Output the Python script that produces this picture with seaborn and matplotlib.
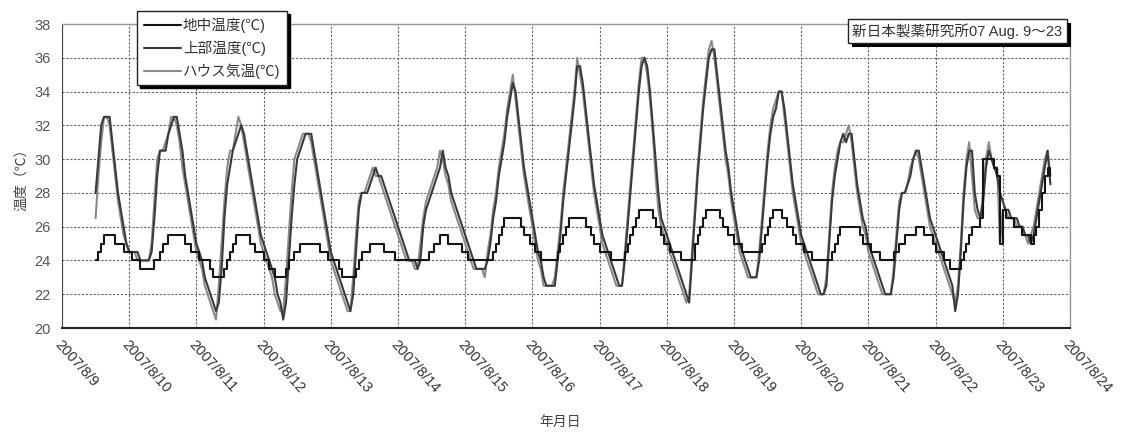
import pandas as pd
import matplotlib.pyplot as plt
import matplotlib.dates as mdates
import matplotlib.ticker as mticker
import matplotlib.patheffects as pe
import seaborn as sns

# hourly readings, 2007/8/9 12:00 .. 2007/8/23 17:00 (one line per day)
start_time = '2007-08-09 12:00'

ground_temp = [
    24, 24.5, 25, 25.5, 25.5, 25.5, 25.5, 25, 25, 25, 24.5, 24.5,  # 8/9 from 12:00
    24.5, 24, 24, 24, 23.5, 23.5, 23.5, 23.5, 23.5, 24, 24, 24.5, 25, 25, 25.5, 25.5, 25.5, 25.5, 25.5, 25.5, 25, 25, 24.5, 24.5,
    24.5, 24, 24, 24, 24, 23.5, 23, 23, 23, 23, 23.5, 24, 24.5, 25, 25.5, 25.5, 25.5, 25.5, 25.5, 25, 25, 24.5, 24.5, 24.5,
    24, 24, 23.5, 23.5, 23, 23, 23, 23, 23.5, 24, 24, 24.5, 24.5, 25, 25, 25, 25, 25, 25, 25, 24.5, 24.5, 24.5, 24,
    24, 24, 24, 23.5, 23, 23, 23, 23, 23, 23.5, 24, 24.5, 24.5, 24.5, 25, 25, 25, 25, 25, 24.5, 24.5, 24.5, 24.5, 24,
    24, 24, 24, 24, 24, 24, 24, 24, 24, 24, 24, 24.5, 24.5, 25, 25, 25.5, 25.5, 25.5, 25, 25, 25, 25, 25, 24.5,
    24.5, 24, 24, 24, 24, 24, 24, 24, 24, 24, 24.5, 25, 25.5, 26, 26.5, 26.5, 26.5, 26.5, 26.5, 26.5, 26, 25.5, 25.5, 25,
    25, 24.5, 24.5, 24, 24, 24, 24, 24, 24, 24.5, 25, 25.5, 26, 26.5, 26.5, 26.5, 26.5, 26.5, 26.5, 26, 26, 25.5, 25, 25,
    24.5, 24.5, 24.5, 24.5, 24, 24, 24, 24, 24, 24.5, 25, 25.5, 26, 26.5, 27, 27, 27, 27, 27, 26.5, 26, 26, 25.5, 25,
    25, 24.5, 24.5, 24.5, 24.5, 24, 24, 24, 24, 24, 25, 25.5, 26, 26.5, 27, 27, 27, 27, 27, 26.5, 26, 26, 25.5, 25.5,
    25, 25, 25, 24.5, 24.5, 24.5, 24.5, 24.5, 24.5, 24.5, 25, 25.5, 26, 26.5, 27, 27, 27, 26.5, 26.5, 26, 26, 25.5, 25, 25,
    25, 24.5, 24.5, 24.5, 24, 24, 24, 24, 24, 24, 24, 24.5, 25, 25.5, 26, 26, 26, 26, 26, 26, 26, 25.5, 25, 25,
    25, 24.5, 24.5, 24.5, 24, 24, 24, 24, 24, 24.5, 24.5, 25, 25, 25.5, 25.5, 25.5, 25.5, 26, 26, 26, 25.5, 25.5, 25.5, 25,
    24.5, 24.5, 24.5, 24, 24, 23.5, 23.5, 23.5, 23.5, 24, 24.5, 25, 25.5, 26, 26, 26, 26.5, 30, 30, 30, 30, 29.5, 29, 25,
    27, 26.5, 26.5, 26.5, 26, 26, 26, 25.5, 25.5, 25.5, 25, 25.5, 26, 27, 28, 29, 29.5, 29,  # 8/23 until 17:00
]

upper_temp = [
    28, 30, 32, 32.5, 32.5, 32.5, 31, 29.5, 28, 27, 26, 25,
    24.5, 24.5, 24.5, 24.5, 24, 24, 24, 24, 24.5, 26.5, 29, 30.5, 30.5, 30.5, 31.5, 32, 32.5, 32.5, 31.5, 30.5, 29, 28, 27, 26,
    25, 24.5, 24, 23, 22.5, 22, 21.5, 21, 21.5, 23.5, 26.5, 28.5, 29.5, 30.5, 31, 31.5, 32, 31.5, 30.5, 29.5, 28.5, 27.5, 26.5, 25.5,
    25, 24.5, 24, 23.5, 23, 22, 21.5, 20.5, 21.5, 24, 26.5, 28.5, 30, 30.5, 31, 31.5, 31.5, 31.5, 30.5, 29.5, 28.5, 27.5, 26.5, 25.5,
    24.5, 24, 23.5, 23, 22.5, 22, 21.5, 21, 22, 24.5, 27, 28, 28, 28, 28.5, 29, 29.5, 29, 29, 28.5, 28, 27.5, 27, 26.5,
    26, 25.5, 25, 24.5, 24, 24, 24, 23.5, 24, 26, 27, 27.5, 28, 28.5, 29, 29.5, 30.5, 29.5, 29, 28, 27.5, 27, 26.5, 26,
    25.5, 25, 24.5, 24, 23.5, 23.5, 23.5, 23.5, 24, 25, 26.5, 27.5, 29, 30, 31, 32.5, 33.5, 34.5, 34, 32.5, 31, 29.5, 28.5, 27.5,
    26.5, 25.5, 24.5, 24, 23, 22.5, 22.5, 22.5, 22.5, 24, 25.5, 27.5, 29, 30.5, 32, 33.5, 35.5, 35.5, 34.5, 33, 31.5, 30, 28.5, 27.5,
    26.5, 25.5, 25, 24.5, 24, 23.5, 23, 22.5, 22.5, 24, 26, 28, 30, 32, 34, 35.5, 36, 35.5, 34, 32, 30, 28, 26.5, 26,
    25.5, 25, 24.5, 24, 23.5, 23, 22.5, 22, 21.5, 24, 26.5, 29, 31, 33, 34.5, 36, 36.5, 36.5, 35, 33.5, 32, 30.5, 29.5, 28,
    27, 26, 25, 24.5, 24, 23.5, 23, 23, 23, 24, 26, 28, 30, 31.5, 32.5, 33, 34, 34, 33, 31.5, 30, 28.5, 27.5, 26.5,
    25.5, 25, 24.5, 24, 23.5, 23, 22.5, 22, 22, 22.5, 25, 27.5, 29, 30, 31, 31.5, 31, 31.5, 31.5, 30, 28.5, 27.5, 26.5, 26,
    25, 24.5, 24, 23.5, 23, 22.5, 22, 22, 22, 23, 25, 27, 28, 28, 28.5, 29, 30, 30.5, 30.5, 29.5, 28.5, 27.5, 26.5, 26,
    25.5, 25, 24.5, 24, 23.5, 23, 22.5, 21, 22, 24.5, 27.5, 29.5, 30.5, 30.5, 28, 27, 26.5, 27.5, 29.5, 30.5, 30, 29.5, 29, 28,
    27.5, 27, 27, 26.5, 26.5, 26.5, 26, 26, 25.5, 25.5, 25, 25.5, 26.5, 27.5, 28.5, 29.5, 30.5, 28.5,
]

house_temp = [
    26.5, 29, 31, 32.5, 32.5, 32, 30.5, 29, 27.5, 26.5, 25.5, 25,
    24.5, 24.5, 24.5, 24, 24, 24, 24, 24, 25, 27.5, 30, 30.5, 30.5, 31, 31.5, 32.5, 32.5, 32, 31, 29.5, 28.5, 27.5, 26.5, 25.5,
    24.5, 24, 23.5, 22.5, 22, 21.5, 21, 20.5, 22.5, 25, 27.5, 29.5, 30.5, 30.5, 31.5, 32.5, 32, 31, 30, 29, 28, 27, 26, 25,
    24.5, 24, 23.5, 23, 22, 21.5, 21, 21, 23, 25.5, 28, 30, 30.5, 31, 31.5, 31.5, 31.5, 31, 30, 29, 28, 27, 26, 25,
    24, 23.5, 23, 22.5, 22, 21.5, 21, 21, 23, 25.5, 27.5, 28, 28, 28.5, 29, 29.5, 29, 29, 28.5, 28, 27.5, 27, 26.5, 26,
    25.5, 25, 24.5, 24, 24, 24, 23.5, 23.5, 25, 26.5, 27.5, 28, 28.5, 29, 29.5, 30.5, 30, 29, 28.5, 27.5, 27, 26.5, 26, 25.5,
    25, 24.5, 24, 23.5, 23.5, 23.5, 23.5, 23, 24.5, 25.5, 27, 28, 29.5, 30.5, 31.5, 33, 34, 35, 33.5, 32, 30.5, 29, 28, 27,
    26, 25, 24, 23.5, 22.5, 22.5, 22.5, 22.5, 23, 24.5, 26, 28, 29.5, 31, 32.5, 34, 36, 35, 34, 32.5, 31, 29.5, 28, 27,
    26, 25, 24.5, 24, 23.5, 23, 22.5, 22.5, 22.5, 24.5, 26.5, 28.5, 30.5, 32.5, 34.5, 36, 36, 35, 33.5, 31.5, 29, 27, 26, 25.5,
    25, 24.5, 24, 23.5, 23, 22.5, 22, 21.5, 22, 24.5, 27, 29.5, 31.5, 33.5, 35, 36.5, 37, 36, 34.5, 33, 31.5, 30, 29, 27.5,
    26.5, 25.5, 24.5, 24, 23.5, 23, 23, 23, 23, 24.5, 26.5, 28.5, 30.5, 32, 33, 33.5, 34, 34, 32.5, 31, 29.5, 28, 27, 26,
    25, 24.5, 24, 23.5, 23, 22.5, 22, 22, 22, 23, 25.5, 28, 29.5, 30.5, 31, 31, 31.5, 32, 31, 29.5, 28, 27, 26, 25.5,
    24.5, 24, 23.5, 23, 22.5, 22, 22, 22, 22, 23.5, 25.5, 27.5, 28, 28, 28.5, 29.5, 30, 30.5, 30, 29, 28, 27, 26, 25.5,
    25, 24.5, 24, 23.5, 23, 22.5, 22, 21.5, 22.5, 25, 28, 30, 31, 29, 27, 26.5, 26.5, 28, 30, 31, 30, 29.5, 29.5, 25,
    27, 27, 26.5, 26.5, 26.5, 26, 26, 26, 25.5, 25, 25.5, 26, 27, 28, 29, 30, 30.5, 29,
]

series_labels = ['地中温度(℃)', '上部温度(℃)', 'ハウス気温(℃)']
series_colors = ['#141414', '#3a3a3a', '#8a8a8a']
note_text = '新日本製薬研究所07 Aug. 9～23'

sns.set_style('white')
plt.rcParams['font.family'] = ['Liberation Sans', 'Noto Sans CJK JP', 'DejaVu Sans']

df = pd.DataFrame({
    'time': pd.date_range(start_time, periods=len(ground_temp), freq='h'),
    'ground': ground_temp,
    'upper': upper_temp,
    'house': house_temp,
})

fig = plt.figure(figsize=(11.21, 4.36), dpi=100)
ax = fig.add_axes([62 / 1121, 108 / 436, 1008 / 1121, 304 / 436])

sns.lineplot(data=df, x='time', y='ground', ax=ax, color=series_colors[0], linewidth=1.5,
             drawstyle='steps-post', label=series_labels[0], zorder=4)
sns.lineplot(data=df, x='time', y='upper', ax=ax, color=series_colors[1], linewidth=1.5,
             label=series_labels[1], zorder=3)
sns.lineplot(data=df, x='time', y='house', ax=ax, color=series_colors[2], linewidth=1.5,
             label=series_labels[2], zorder=2)

# axes and grid
ax.set_xlim(pd.Timestamp('2007-08-09'), pd.Timestamp('2007-08-24'))
ax.set_ylim(20, 38)
ax.yaxis.set_major_locator(mticker.MultipleLocator(2))
ax.yaxis.set_minor_locator(mticker.MultipleLocator(0.4))
ax.xaxis.set_major_locator(mdates.DayLocator())
ax.xaxis.set_minor_locator(mdates.HourLocator(byhour=[4, 8, 12, 16, 20]))
ax.xaxis.set_major_formatter(mticker.FuncFormatter(
    lambda v, p: '{0.year}/{0.month}/{0.day}'.format(mdates.num2date(v))))

ax.set_axisbelow(True)
ax.grid(which='major', color='#666666', linestyle=(0, (2, 1.5)), linewidth=0.8)
for side in ['top', 'right']:
    ax.spines[side].set_color('#999999')
    ax.spines[side].set_linewidth(1.0)
ax.spines['left'].set_color('#444444')
ax.spines['bottom'].set_color('#222222')
ax.spines['bottom'].set_linewidth(1.5)

ax.tick_params(axis='y', which='major', direction='in', length=4, width=0.8, pad=8,
               labelsize=10.5, labelcolor='#555555', color='#444444')
ax.tick_params(axis='y', which='minor', direction='in', length=2.5, width=0.6, color='#555555')
ax.tick_params(axis='x', which='major', direction='inout', length=6, width=0.8, pad=4,
               labelsize=10.5, labelcolor='#333333', labelrotation=-48)
ax.tick_params(axis='x', which='minor', direction='in', length=3, width=0.6)
plt.setp(ax.get_xticklabels(), ha='left', va='top', rotation_mode='anchor')

ax.set_xlabel('')
ax.set_ylabel('温度（℃）', fontsize=10, color='#444444')
ax.yaxis.set_label_coords(-0.034, 0.5)
fig.text(560 / 1121, 1 - 422 / 436, '年月日', ha='center', va='center', fontsize=10, color='#444444')

# legend with a hard black shadow
leg = ax.legend(loc='upper left', bbox_to_anchor=((137 - 62) / 1008, (328 - 11) / 304),
                borderaxespad=0, frameon=True, fancybox=False, framealpha=1,
                shadow={'color': 'black', 'alpha': 1}, fontsize=10.5,
                handlelength=2.6, handletextpad=0.1, labelspacing=0.5, borderpad=0.45,
                edgecolor='#222222')
leg.get_frame().set_linewidth(1.0)
for t in leg.get_texts():
    t.set_color('#333333')

# note box at top right, shadow drawn on its frame
note = fig.text(852 / 1121, 1 - 31 / 436, note_text, ha='left', va='center', fontsize=10.5,
                color='#333333', bbox=dict(boxstyle='square,pad=0.3', fc='white', ec='#222222', lw=1))
note.get_bbox_patch().set_path_effects([
    pe.SimplePatchShadow(offset=(3, -3), shadow_rgbFace='black', alpha=1),
    pe.Normal(),
])

fig.savefig('out.png', dpi=100)
